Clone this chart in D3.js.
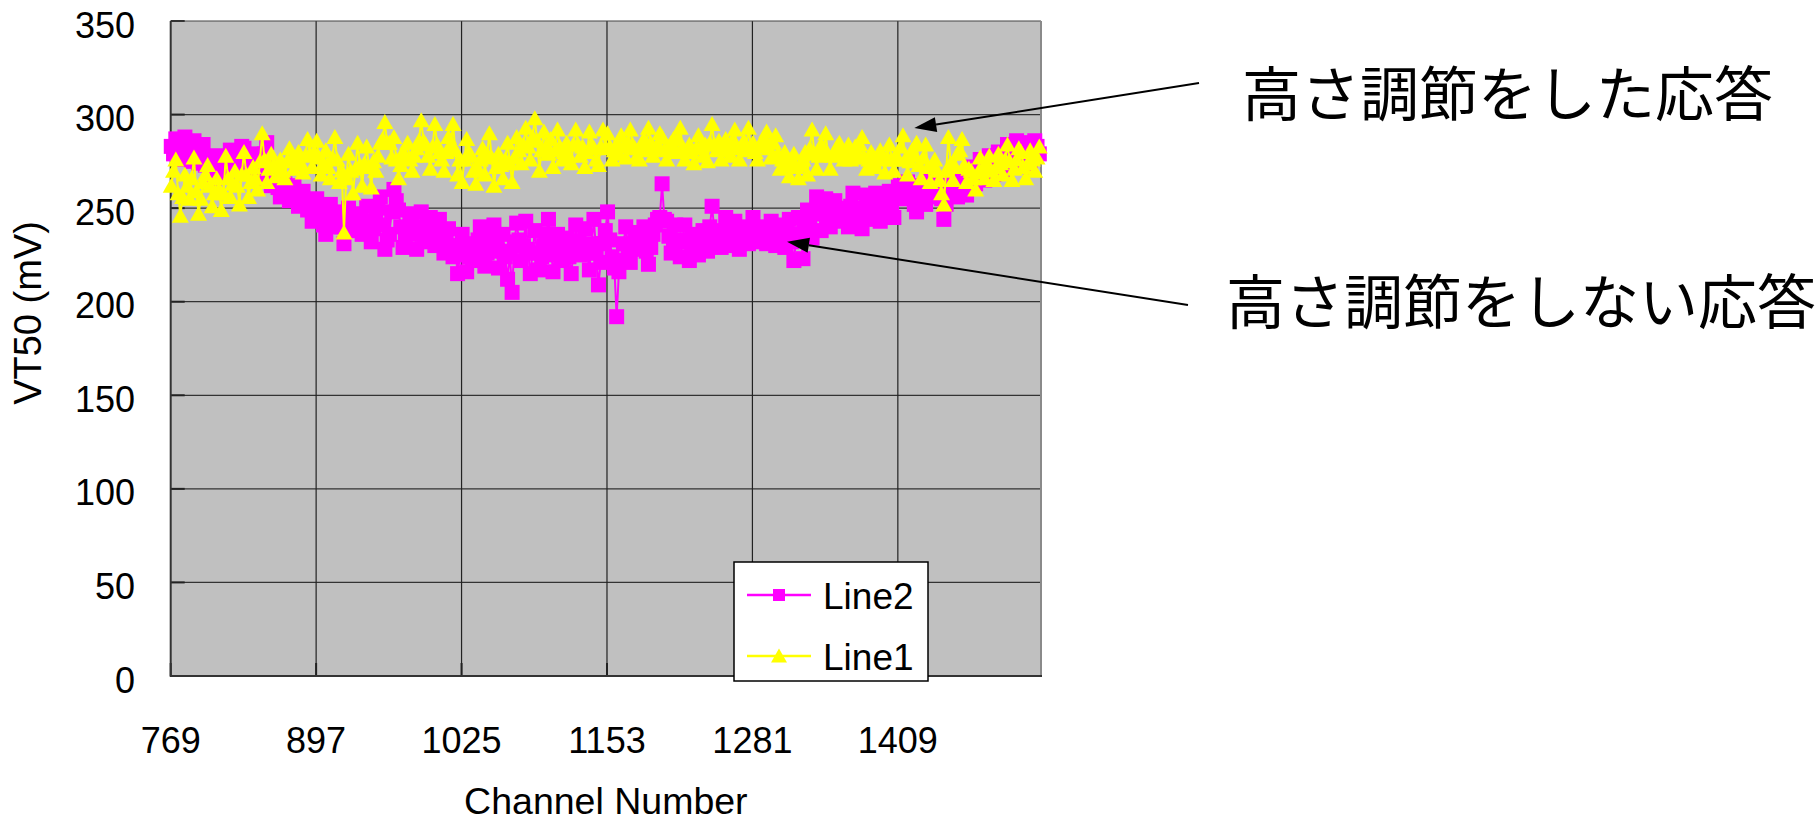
<!DOCTYPE html>
<html><head><meta charset="utf-8">
<script src="https://cdn.jsdelivr.net/npm/d3@7"></script>
<style>body{margin:0;background:#fff;} svg{display:block}</style>
</head><body>
<svg id="chart" width="1817" height="822"></svg>
<script>
// ---------- data ----------
const channels = d3.range(769, 1534, 2); // channel numbers, every 2nd channel (383)

const line2 = [ // magenta squares (VT50, mV)
 283,279,287,281,276,284,288,278,280,275,286,281,274,279,284,273,277,274,270,266,278,272,268,274,276,271,281,276,270,274,278,283,
 282,276,270,275,279,271,266,270,272,279,285,274,262,265,268,261,256,260,263,258,254,257,262,256,251,255,259,254,249,253,243,247,
 255,250,246,241,236,244,252,246,240,245,248,240,231,238,250,242,238,243,247,241,236,243,251,240,232,239,244,250,256,241,228,233,
 236,248,260,254,249,240,229,234,238,242,247,237,228,236,248,240,232,238,245,236,230,237,244,233,226,232,239,230,224,229,215,225,
 236,228,216,224,231,226,222,233,240,229,219,226,234,228,241,230,218,227,236,224,212,226,205,232,242,233,222,230,243,228,215,226,
 238,226,217,224,230,236,244,229,216,225,236,228,222,230,234,224,215,226,241,232,225,230,239,226,217,231,244,226,209,221,231,238,
 248,233,224,218,192,216,222,231,240,228,221,230,237,233,228,234,240,227,220,229,236,241,244,245,263,244,243,235,226,233,241,232,
 224,232,241,233,222,229,236,230,225,233,238,231,227,240,251,238,234,237,229,236,245,237,230,236,243,235,228,234,240,236,231,238,
 245,237,232,236,240,234,231,238,243,235,230,236,241,235,229,237,244,232,222,233,245,236,223,240,249,242,234,247,256,247,238,248,
 255,246,240,249,254,247,243,250,248,244,240,251,258,250,246,244,239,249,257,250,244,251,258,250,243,250,252,255,259,252,245,256,
 262,258,255,260,264,259,256,252,248,256,262,257,252,260,266,260,256,261,264,255,244,252,258,263,268,262,256,261,265,261,257,265,
 272,267,263,270,276,271,265,273,278,274,268,276,280,275,270,279,284,280,274,281,286,281,276,282,285,279,272,280,286,283,279
];

const line1 = [ // yellow triangles (VT50, mV)
 262,270,276,258,246,256,268,262,255,266,277,259,247,255,264,268,273,262,251,258,266,260,249,258,278,266,256,263,270,262,252,268,
 280,268,256,264,272,266,260,275,290,276,264,271,279,273,267,272,276,270,266,275,282,276,271,277,280,274,269,278,287,279,272,280,
 286,277,268,274,281,272,266,277,288,276,264,270,237,266,279,270,258,271,285,273,262,274,283,272,261,275,270,278,285,287,296,285,
 285,277,288,276,266,273,280,277,285,276,270,278,282,286,297,286,284,278,271,283,295,284,280,276,270,280,288,283,295,281,268,276,
 264,276,287,280,278,270,263,271,276,282,268,279,290,277,262,272,279,273,266,276,285,274,264,277,288,281,274,284,293,283,276,288,
 298,286,270,281,291,283,279,287,272,281,292,283,276,280,285,278,274,284,292,284,278,283,272,280,291,284,282,276,273,283,292,282,
 290,283,276,281,284,279,289,283,277,285,292,284,282,278,276,283,287,281,293,285,278,282,284,290,288,281,276,283,285,287,280,287,
 293,283,276,281,284,280,274,282,289,283,278,284,275,285,295,284,281,286,276,282,287,281,278,286,292,283,276,282,286,281,293,283,
 285,280,276,284,283,287,291,282,277,285,289,279,271,276,280,273,267,274,279,272,266,273,276,280,268,282,292,279,271,278,284,279,
 290,279,271,278,280,283,285,279,276,281,284,276,277,283,279,284,288,277,271,276,280,275,272,278,281,276,269,277,284,276,270,278,
 276,283,289,276,268,275,281,278,285,273,266,277,284,272,264,272,276,270,265,258,252,270,288,274,265,272,279,281,287,273,264,271,
 270,266,260,269,277,271,266,273,278,270,265,272,279,274,268,276,284,275,265,271,276,282,280,272,266,274,281,276,270,277,283
];

const xTickLabels = [769, 897, 1025, 1153, 1281, 1409];
const yTickLabels = [0, 50, 100, 150, 200, 250, 300, 350];
const seriesNames = ["Line2", "Line1"];
const seriesColors = ["#ff00ff", "#ffff00"];
const xTitle = "Channel Number";
const yTitle = "VT50 (mV)";
const noteTexts = ["高さ調節をした応答", "高さ調節をしない応答"];
const noteTargets = [[1423, 292.8], [1311, 232]]; // [channel, mV] the arrows point at

// ---------- layout ----------
const L = 170.7, R = 1041, T = 21, B = 676;
const svg = d3.select("#chart");
const x = d3.scaleLinear().domain([768.5, 1534.5]).range([L, R]);
const y = d3.scaleLinear().domain([0, 350]).range([B, T]);
const latin = "'Liberation Sans', Arial, sans-serif";
const cjk = "'Noto Sans CJK JP', sans-serif";

svg.append("rect").attr("width", 1817).attr("height", 822).attr("fill", "#fff");
svg.append("rect").attr("x", L).attr("y", T).attr("width", R - L).attr("height", B - T).attr("fill", "#c0c0c0");

// gridlines
svg.append("g").selectAll("line").data(yTickLabels.filter(v => v > 0 && v < 350)).join("line")
  .attr("x1", L).attr("x2", R).attr("y1", d => y(d)).attr("y2", d => y(d))
  .attr("stroke", "#333").attr("stroke-width", 1.2);
svg.append("g").selectAll("line").data(xTickLabels.slice(1)).join("line")
  .attr("x1", d => x(d - 0.5)).attr("x2", d => x(d - 0.5)).attr("y1", T).attr("y2", B)
  .attr("stroke", "#222").attr("stroke-width", 1.2);

// inner tick marks
svg.append("g").selectAll("line").data(yTickLabels).join("line")
  .attr("x1", L).attr("x2", L + 14).attr("y1", d => y(d)).attr("y2", d => y(d))
  .attr("stroke", "#222").attr("stroke-width", 2);
svg.append("g").selectAll("line").data(xTickLabels).join("line")
  .attr("x1", d => x(d - 0.5)).attr("x2", d => x(d - 0.5)).attr("y1", B).attr("y2", B - 13)
  .attr("stroke", "#222").attr("stroke-width", 2);

// border
svg.append("line").attr("x1", L).attr("x2", R).attr("y1", T).attr("y2", T).attr("stroke", "#444").attr("stroke-width", 1.2);
svg.append("line").attr("x1", R).attr("x2", R).attr("y1", T).attr("y2", B).attr("stroke", "#8a8a8a").attr("stroke-width", 2);
svg.append("line").attr("x1", L).attr("x2", L).attr("y1", T).attr("y2", B + 1).attr("stroke", "#333").attr("stroke-width", 2);
svg.append("line").attr("x1", L).attr("x2", R + 1).attr("y1", B).attr("y2", B).attr("stroke", "#333").attr("stroke-width", 2);

// series
const series = [line2, line1];
const triPath = "M0,-8L8.5,7L-8.5,7Z";
const legTri = "M0,-7.5L8,6.5L-8,6.5Z";
series.forEach((vals, si) => {
  const n = Math.min(channels.length, vals.length);
  const pts = channels.slice(0, n).map((c, i) => [c, vals[i]]);
  svg.append("path").datum(pts)
    .attr("d", d3.line().x(d => x(d[0])).y(d => y(d[1])))
    .attr("fill", "none").attr("stroke", seriesColors[si]).attr("stroke-width", 2);
  const g = svg.append("g").attr("fill", seriesColors[si]);
  if (si === 0) {
    g.selectAll("rect").data(pts).join("rect")
      .attr("x", d => x(d[0]) - 7.5).attr("y", d => y(d[1]) - 7.5)
      .attr("width", 15).attr("height", 15);
  } else {
    g.selectAll("path").data(pts).join("path")
      .attr("transform", d => `translate(${x(d[0])},${y(d[1])})`).attr("d", triPath);
  }
});

// axis labels
svg.append("g").selectAll("text").data(yTickLabels).join("text")
  .attr("x", 135).attr("y", d => y(d) + 4).attr("text-anchor", "end").attr("dominant-baseline", "central")
  .attr("font-family", latin).attr("font-size", 36).attr("fill", "#000").text(d => d);
svg.append("g").selectAll("text").data(xTickLabels).join("text")
  .attr("x", d => x(d - 0.5)).attr("y", 740).attr("text-anchor", "middle").attr("dominant-baseline", "central")
  .attr("font-family", latin).attr("font-size", 36).attr("fill", "#000").text(d => d);
svg.append("text").attr("x", (L + R) / 2).attr("y", 801).attr("text-anchor", "middle").attr("dominant-baseline", "central")
  .attr("font-family", latin).attr("font-size", 37.5).text(xTitle);
svg.append("text").attr("transform", `translate(28,313) rotate(-90)`).attr("text-anchor", "middle")
  .attr("dominant-baseline", "central").attr("font-family", latin).attr("font-size", 38).text(yTitle);

// legend
const lg = svg.append("g");
lg.append("rect").attr("x", 734).attr("y", 562).attr("width", 194).attr("height", 119)
  .attr("fill", "#fff").attr("stroke", "#000").attr("stroke-width", 1.5);
seriesNames.forEach((name, i) => {
  const cy = 595 + i * 61;
  lg.append("line").attr("x1", 747).attr("x2", 811).attr("y1", cy).attr("y2", cy)
    .attr("stroke", seriesColors[i]).attr("stroke-width", 2.5);
  if (i === 0) lg.append("rect").attr("x", 773).attr("y", cy - 6).attr("width", 12).attr("height", 12).attr("fill", seriesColors[i]);
  else lg.append("path").attr("transform", `translate(779,${cy})`).attr("d", legTri).attr("fill", seriesColors[i]);
  lg.append("text").attr("x", 823).attr("y", cy + 1).attr("dominant-baseline", "central")
    .attr("font-family", latin).attr("font-size", 37).text(name);
});

// annotations with arrows
const notePos = [[1242, 90], [1226, 298]];
const tails = [[1199, 83], [1188, 305]];
noteTexts.forEach((t, i) => {
  svg.append("text").attr("x", notePos[i][0]).attr("y", notePos[i][1]).attr("dominant-baseline", "central")
    .attr("font-family", cjk).attr("font-size", 59).attr("fill", "#000").text(t);
  const tx = x(noteTargets[i][0]), ty = y(noteTargets[i][1]);
  const [sx, sy] = tails[i];
  const dx = tx - sx, dy = ty - sy, len = Math.hypot(dx, dy), ux = dx / len, uy = dy / len;
  const hl = 22, hw = 7.5;
  const bx = tx - ux * hl, by = ty - uy * hl;
  svg.append("line").attr("x1", sx).attr("y1", sy).attr("x2", bx).attr("y2", by).attr("stroke", "#000").attr("stroke-width", 2);
  svg.append("path").attr("d", `M${tx},${ty}L${bx - uy * hw},${by + ux * hw}L${bx + uy * hw},${by - ux * hw}Z`).attr("fill", "#000");
});
</script>
</body></html>
